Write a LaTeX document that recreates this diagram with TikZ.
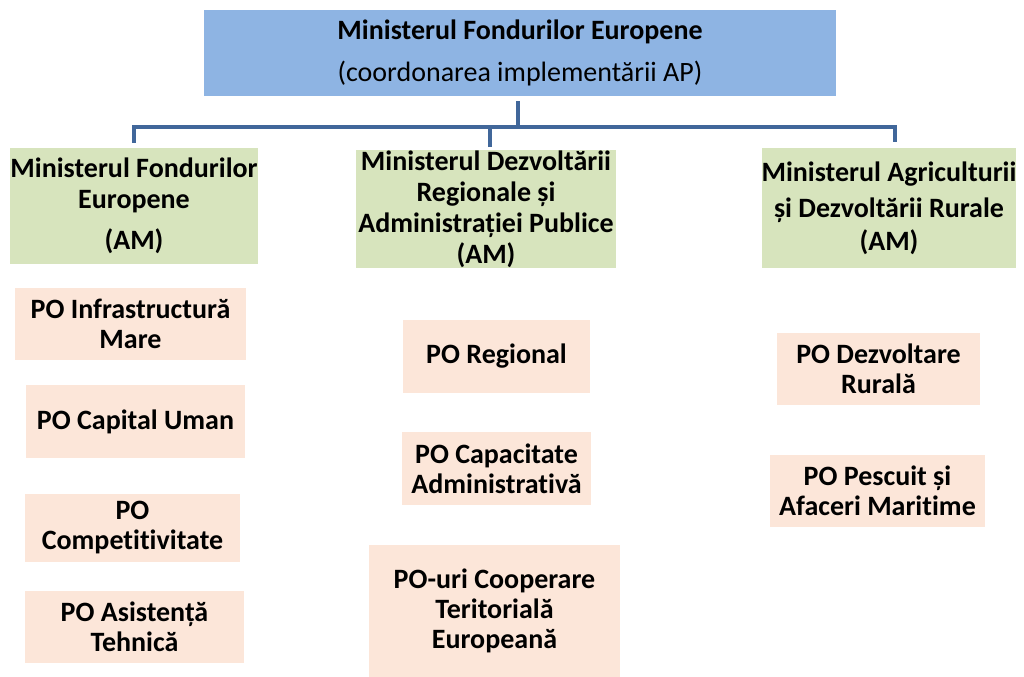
\documentclass[tikz,border=0pt]{standalone}
\usepackage{fontspec}
\setmainfont{Carlito}[Ligatures={NoCommon,NoDiscretionary}]
\definecolor{topblue}{HTML}{8EB4E3}
\definecolor{amgreen}{HTML}{D7E4BD}
\definecolor{popeach}{HTML}{FCE6D9}
\definecolor{connblue}{HTML}{41679A}
\begin{document}
\begin{tikzpicture}[x=0.75pt,y=-0.75pt,
  box/.style={rectangle, inner sep=0pt, align=center, font=\fontsize{21}{22.5}\selectfont\bfseries},
  topbox/.style={box, fill=topblue},
  ambox/.style={box, fill=amgreen, font=\fontsize{21}{23.25}\selectfont\bfseries},
  pobox/.style={box, fill=popeach},
  conn/.style={draw=connblue, line width=3pt, line join=miter}
]
\useasboundingbox (0,0) rectangle (1024,677);
% top
\node[topbox, minimum width=474pt, minimum height=64.5pt] (top) at (520,53)
  {\raisebox{-1.5pt}{Ministerul Fondurilor Europene}\\[10.5pt]{\mdseries (coordonarea implementării AP)}};
% AM boxes
\node[ambox, minimum width=186pt, minimum height=87pt] (g1) at (134,206)
  {Ministerul Fondurilor\\Europene\\[7.5pt](AM)};
\node[ambox, minimum width=195pt, minimum height=88.5pt] (g2) at (486,209)
  {Ministerul Dezvoltării\\Regionale și\\Administrației Publice\\(AM)};
\node[ambox, minimum width=186pt, minimum height=90pt] (g3) at (889,208)
  {Ministerul Agriculturii\\[3.75pt]și Dezvoltării Rurale\\[1.5pt](AM)};
% PO boxes left
\node[pobox, minimum width=173.25pt, minimum height=54pt] (p1) at (130.5,324) {PO Infrastructură\\Mare};
\node[pobox, minimum width=164.25pt, minimum height=54.75pt] (p2) at (135.5,421.5) {PO Capital Uman};
\node[pobox, minimum width=161.25pt, minimum height=51pt] (p3) at (132.5,528) {PO\\Competitivitate};
\node[pobox, minimum width=164.25pt, minimum height=54pt] (p4) at (134.5,627) {PO Asistență\\Tehnică};
% PO boxes middle
\node[pobox, minimum width=140.25pt, minimum height=54.75pt] (m1) at (496.5,356.5) {PO Regional};
\node[pobox, minimum width=141.75pt, minimum height=54.75pt] (m2) at (496.5,468.5) {PO Capacitate\\Administrativă};
\node[pobox, minimum width=188.25pt, minimum height=99pt] (m3) at (494.5,611) {PO-uri Cooperare\\Teritorială\\Europeană};
% PO boxes right
\node[pobox, minimum width=152.25pt, minimum height=54pt] (r1) at (878.5,369) {PO Dezvoltare\\Rurală};
\node[pobox, minimum width=161.25pt, minimum height=54pt] (r2) at (877.5,491) {PO Pescuit și\\Afaceri Maritime};
% connectors
\coordinate (bus) at (518,127);
\draw[conn] ([yshift=-3.75pt]top.south -| bus) -- (bus);
\draw[conn] ([yshift=3.75pt]g1.north) |- (bus) -| ([yshift=4.5pt,xshift=4.5pt]g3.north);
\draw[conn] ([yshift=2pt,xshift=3pt]g2.north) -- ([xshift=3pt]g2.north |- bus);
\end{tikzpicture}
\end{document}
